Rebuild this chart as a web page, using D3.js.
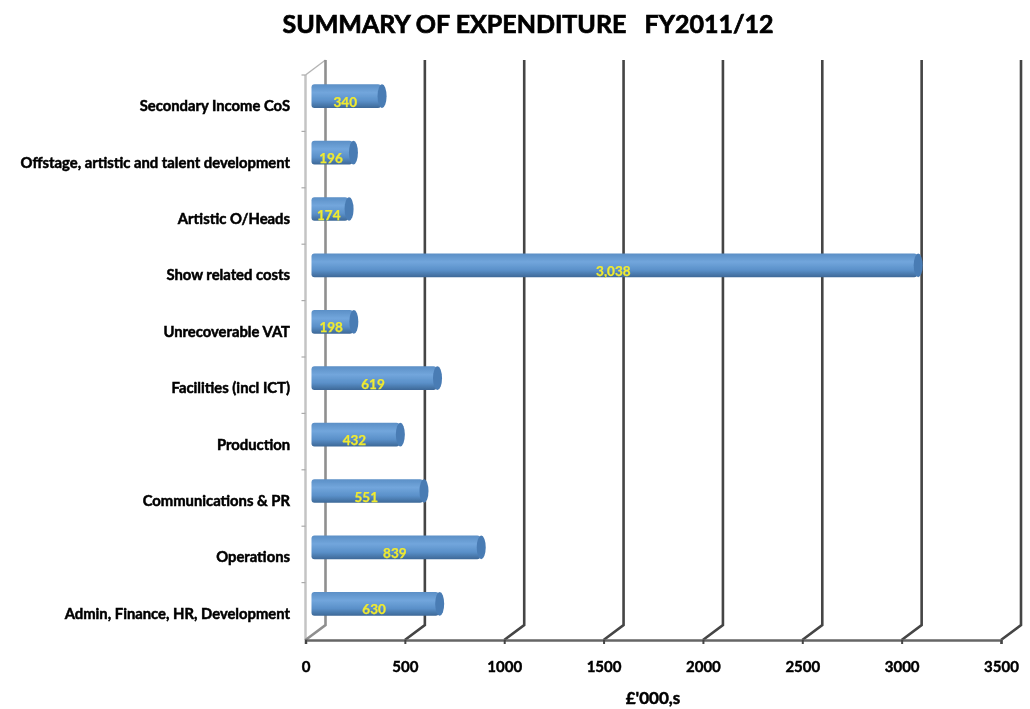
<!DOCTYPE html>
<html>
<head>
<meta charset="utf-8">
<script src="https://cdn.jsdelivr.net/npm/d3@7/dist/d3.min.js"></script>
<style>
  html, body { margin: 0; padding: 0; background: #fff; }
  text { font-family: Lato, "Open Sans", sans-serif; font-weight: 700; }
</style>
</head>
<body>
<script>
const categories = [
  "Secondary Income CoS",
  "Offstage, artistic and talent development",
  "Artistic O/Heads",
  "Show related costs",
  "Unrecoverable VAT",
  "Facilities (incl ICT)",
  "Production",
  "Communications & PR",
  "Operations",
  "Admin, Finance, HR, Development"
];
const values = [340, 196, 174, 3038, 198, 619, 432, 551, 839, 630];
const labels = ["340", "196", "174", "3,038", "198", "619", "432", "551", "839", "630"];
const xTicks = [0, 500, 1000, 1500, 2000, 2500, 3000, 3500];

const w = 1030;
const h = 709;
const depthX = 20;
const depthY = 15;
const barOffset = 6;

const x = d3.scaleLinear().domain([0, 3500]).range([305.5, 1001]);
const y = d3.scaleBand().domain(categories).range([68, 632]).paddingInner(0.58).paddingOuter(0.29);
const bottom = 640;
const top3d = 60;

const svg = d3.select("body").append("svg")
  .attr("width", w)
  .attr("height", h)
  .style("display", "block");

const defs = svg.append("defs");
defs.append("filter").attr("id", "soft")
  .attr("x", 0).attr("y", 0).attr("width", 1).attr("height", 1)
  .append("feGaussianBlur").attr("stdDeviation", 0.65);

const grad = defs.append("linearGradient").attr("id", "barFill")
  .attr("x1", 0).attr("y1", 0).attr("x2", 0).attr("y2", 1);
grad.append("stop").attr("offset", "0%").attr("stop-color", "#5b8fc6");
grad.append("stop").attr("offset", "35%").attr("stop-color", "#72a6dc");
grad.append("stop").attr("offset", "70%").attr("stop-color", "#5a90c9");
grad.append("stop").attr("offset", "100%").attr("stop-color", "#3d6897");

const chart = svg.append("g").attr("filter", "url(#soft)");
chart.append("rect").attr("width", w).attr("height", h).attr("fill", "#fff");

// title
chart.append("text")
  .attr("x", 528)
  .attr("y", 33)
  .attr("text-anchor", "middle")
  .attr("font-size", 25)
  .attr("fill", "#000")
  .attr("stroke", "#000")
  .attr("stroke-width", 0.7)
  .style("white-space", "pre")
  .text("SUMMARY OF EXPENDITURE   FY2011/12");

// left wall and its ticks
chart.append("line")
  .attr("x1", x(0)).attr("x2", x(0))
  .attr("y1", top3d + depthY).attr("y2", bottom)
  .attr("stroke", "#c4c4c4").attr("stroke-width", 2.5);
chart.append("line")
  .attr("x1", x(0)).attr("x2", x(0) + depthX)
  .attr("y1", top3d + depthY).attr("y2", top3d)
  .attr("stroke", "#b5b5b5").attr("stroke-width", 1.5);

const step = y.step();
chart.selectAll(".wall-tick")
  .data(categories)
  .enter()
  .append("line")
  .attr("class", "wall-tick")
  .attr("x1", x(0) - 4).attr("x2", x(0))
  .attr("y1", (d) => y(d) - y.paddingOuter() * step + 7)
  .attr("y2", (d) => y(d) - y.paddingOuter() * step + 7)
  .attr("stroke", "#aaa").attr("stroke-width", 1.2);

// back gridlines with slant down to the floor
chart.selectAll(".grid")
  .data(xTicks)
  .enter()
  .append("path")
  .attr("class", "grid")
  .attr("d", (d) => `M${x(d) + depthX},${top3d}V${bottom - depthY}L${x(d)},${bottom}`)
  .attr("fill", "none")
  .attr("stroke", (d) => (d === 0 ? "#8f8f8f" : "#444"))
  .attr("stroke-width", 2.6);

// floor axis
const axis = d3.axisBottom(x)
  .tickValues(xTicks)
  .tickFormat(d3.format("d"))
  .tickSize(4)
  .tickPadding(17);
const axisG = chart.append("g")
  .attr("transform", `translate(0,${bottom})`)
  .call(axis);
axisG.select(".domain").attr("stroke", "#666").attr("stroke-width", 2.6);
axisG.selectAll(".tick line").attr("stroke", "#444").attr("stroke-width", 2);
axisG.selectAll(".tick text")
  .attr("font-family", null)
  .attr("font-size", 15)
  .attr("fill", "#000")
  .attr("stroke", "#000")
  .attr("stroke-width", 0.45);

// category labels
chart.selectAll(".cat")
  .data(categories)
  .enter()
  .append("text")
  .attr("class", "cat")
  .attr("x", 290)
  .attr("y", (d) => y(d) + y.bandwidth() / 2 + 15)
  .attr("text-anchor", "end")
  .attr("font-size", 14.8)
  .attr("fill", "#000")
  .attr("stroke", "#000")
  .attr("stroke-width", 0.5)
  .text((d) => d);

// bars: body then darker end cap
const bars = chart.selectAll(".bar")
  .data(values)
  .enter()
  .append("g")
  .attr("class", "bar");

bars.append("rect")
  .attr("x", x(0) + barOffset)
  .attr("y", (d, i) => y(categories[i]))
  .attr("width", (d) => x(d) - x(0) + 2)
  .attr("height", y.bandwidth())
  .attr("rx", 3)
  .attr("fill", "url(#barFill)");

bars.append("ellipse")
  .attr("cx", (d) => x(d) + barOffset + 3)
  .attr("cy", (d, i) => y(categories[i]) + y.bandwidth() / 2)
  .attr("rx", 4.5)
  .attr("ry", y.bandwidth() / 2)
  .attr("fill", "#4a7cb4");

bars.append("text")
  .attr("x", (d) => x(d / 2) + barOffset)
  .attr("y", (d, i) => y(categories[i]) + y.bandwidth() / 2 + 10.5)
  .attr("text-anchor", "middle")
  .attr("font-size", 13.5)
  .attr("fill", "#f0ea30")
  .attr("stroke", "#f0ea30")
  .attr("stroke-width", 0.25)
  .text((d, i) => labels[i]);

// axis title
chart.append("text")
  .attr("x", 653)
  .attr("y", 704)
  .attr("text-anchor", "middle")
  .attr("font-size", 17)
  .attr("fill", "#000")
  .attr("stroke", "#000")
  .attr("stroke-width", 0.5)
  .text("£'000,s");
</script>
</body>
</html>
